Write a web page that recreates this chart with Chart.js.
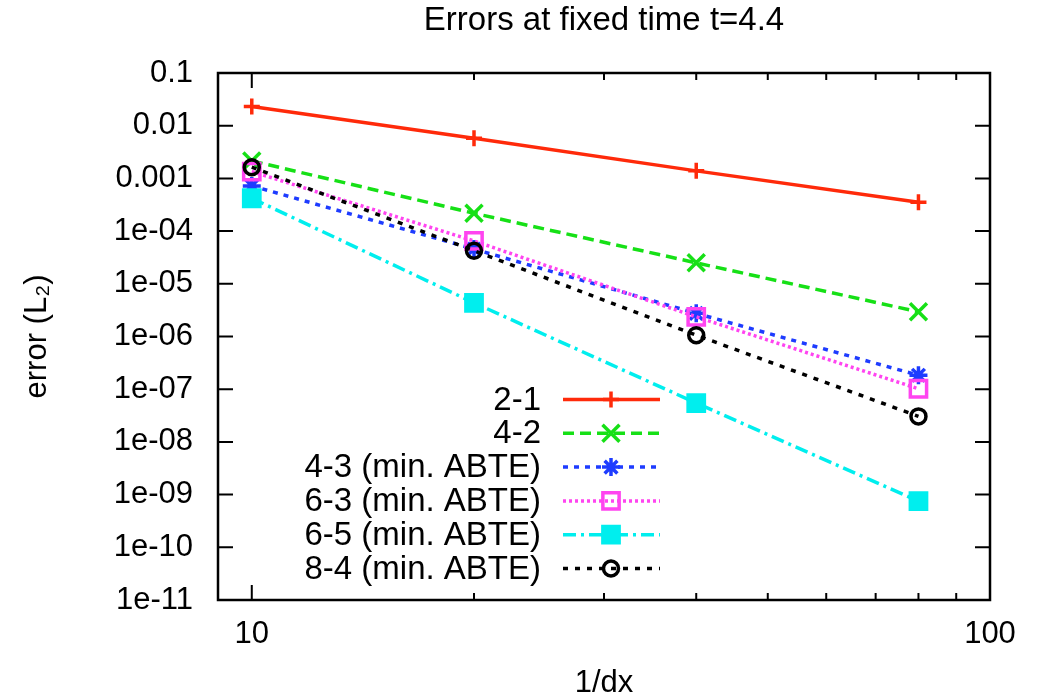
<!DOCTYPE html>
<html>
<head>
<meta charset="utf-8">
<script src="https://cdn.jsdelivr.net/npm/chart.js@4.4.1/dist/chart.umd.min.js"></script>
<style>
  html, body { margin: 0; padding: 0; background: #fff; }
</style>
</head>
<body>
<canvas id="errChart" width="1040" height="700"></canvas>
<script>
// grid resolutions (1/dx) and L2 errors
const resolutions = [10, 20, 40, 80];
const err21 = [0.0232, 0.0058, 0.00139, 3.53e-4];
const err42 = [0.00215, 2.18e-4, 2.5e-5, 2.94e-6];
const err43 = [7.2e-4, 4.57e-5, 2.75e-6, 1.84e-7];
const err63 = [1.35e-3, 6.5e-5, 2.36e-6, 1.02e-7];
const err65 = [4.2e-4, 4.35e-6, 5.47e-8, 7.5e-10];
const err84 = [1.63e-3, 4.24e-5, 1.06e-6, 3.05e-8];

const seriesLabels = ['2-1', '4-2', '4-3 (min. ABTE)', '6-3 (min. ABTE)', '6-5 (min. ABTE)', '8-4 (min. ABTE)'];

const xTickValues = [10, 20, 30, 40, 50, 60, 70, 80, 90, 100];
const xTickLabels = ['10', '', '', '', '', '', '', '', '', '100'];
const yTickValues = [0.1, 0.01, 1e-3, 1e-4, 1e-5, 1e-6, 1e-7, 1e-8, 1e-9, 1e-10, 1e-11];
const yTickLabels = ['0.1', '0.01', '0.001', '1e-04', '1e-05', '1e-06', '1e-07', '1e-08', '1e-09', '1e-10', '1e-11'];

const FONT = "'Liberation Sans', Arial, Helvetica, sans-serif";

const toPoints = (vals) => resolutions.map((x, i) => ({ x: x, y: vals[i] }));

const styles = [
  { color: '#ff2a0a', dash: [], point: 'cross', radius: 8, fill: 'transparent' },
  { color: '#16e016', dash: [11, 6], point: 'crossRot', radius: 12, fill: 'transparent' },
  { color: '#1e3cff', dash: [5, 6], point: 'star', radius: 9, fill: 'transparent' },
  { color: '#ff44f0', dash: [3, 3], point: 'rect', radius: 11.5, fill: 'transparent' },
  { color: '#00eeee', dash: [13, 5, 3, 5], point: 'rect', radius: 11.5, fill: '#00eeee' },
  { color: '#000000', dash: [5, 7], point: 'circle', radius: 7.5, fill: 'transparent' }
];
const allErrors = [err21, err42, err43, err63, err65, err84];

const datasets = allErrors.map((vals, i) => ({
  label: seriesLabels[i],
  data: toPoints(vals),
  borderColor: styles[i].color,
  backgroundColor: styles[i].fill,
  borderWidth: 3.5,
  borderDash: styles[i].dash,
  pointStyle: styles[i].point,
  pointRadius: styles[i].radius,
  pointBorderWidth: 3.5,
  pointBorderColor: styles[i].color,
  pointBackgroundColor: styles[i].fill,
  tension: 0,
  fill: false,
  order: allErrors.length - i
}));

// gnuplot style box with inward ticks on all four sides
const framePlugin = {
  id: 'frame',
  beforeDatasetsDraw(chart) {
    const { ctx, chartArea: a, scales } = chart;
    ctx.save();
    ctx.strokeStyle = '#000';
    ctx.lineWidth = 2;
    ctx.beginPath();
    xTickValues.forEach((v) => {
      const px = scales.x.getPixelForValue(v);
      const len = (v === 10 || v === 100) ? 15 : 7;
      ctx.moveTo(px, a.bottom); ctx.lineTo(px, a.bottom - len);
      ctx.moveTo(px, a.top); ctx.lineTo(px, a.top + len);
    });
    yTickValues.forEach((v) => {
      const py = scales.y.getPixelForValue(v);
      ctx.moveTo(a.left, py); ctx.lineTo(a.left + 15, py);
      ctx.moveTo(a.right, py); ctx.lineTo(a.right - 15, py);
    });
    ctx.stroke();
    ctx.lineWidth = 2.5;
    ctx.strokeRect(a.left, a.top, a.right - a.left, a.bottom - a.top);
    ctx.restore();
  }
};

// key drawn inside the plot: right aligned text, then sample line + marker
const keyPlugin = {
  id: 'key',
  afterDatasetsDraw(chart) {
    const ctx = chart.ctx;
    ctx.save();
    chart.data.datasets.forEach((ds, i) => {
      const y = 399.5 + i * 33.8;
      ctx.font = '33px ' + FONT;
      ctx.fillStyle = '#000';
      ctx.textAlign = 'right';
      ctx.textBaseline = 'middle';
      ctx.fillText(ds.label, 541, y + 1);

      ctx.strokeStyle = ds.borderColor;
      ctx.lineWidth = ds.borderWidth;
      ctx.setLineDash(ds.borderDash);
      ctx.beginPath();
      ctx.moveTo(563, y);
      ctx.lineTo(660, y);
      ctx.stroke();
      ctx.setLineDash([]);

      ctx.lineWidth = ds.pointBorderWidth;
      ctx.fillStyle = ds.pointBackgroundColor;
      Chart.helpers.drawPoint(ctx, {
        pointStyle: ds.pointStyle,
        radius: ds.pointRadius,
        rotation: 0,
        borderWidth: ds.pointBorderWidth
      }, 611, y);
    });
    ctx.restore();
  }
};

new Chart(document.getElementById('errChart'), {
  type: 'line',
  data: { datasets: datasets },
  plugins: [framePlugin, keyPlugin],
  options: {
    responsive: false,
    animation: false,
    layout: { padding: { right: 50 } },
    plugins: {
      legend: { display: false },
      tooltip: { enabled: false },
      title: {
        display: true,
        text: 'Errors at fixed time t=4.4',
        fullSize: false,
        color: '#000',
        font: { family: FONT, size: 33, weight: 'normal', lineHeight: 1.2 },
        padding: { top: 1, bottom: 32.4 }
      }
    },
    scales: {
      x: {
        type: 'logarithmic',
        min: 9,
        max: 100,
        afterBuildTicks: (s) => { s.ticks = xTickValues.map((v) => ({ value: v })); },
        afterFit: (s) => { s.height = 100; },
        grid: { display: false, drawTicks: false },
        border: { display: false },
        ticks: {
          autoSkip: false,
          maxRotation: 0,
          padding: 16,
          color: '#000',
          font: { family: FONT, size: 31 },
          callback: (v, i) => xTickLabels[i]
        },
        title: {
          display: true,
          text: '1/dx',
          color: '#000',
          font: { family: FONT, size: 31, lineHeight: 1 },
          padding: { top: 0, bottom: 1 }
        }
      },
      y: {
        type: 'logarithmic',
        min: 1e-11,
        max: 0.1,
        afterBuildTicks: (s) => { s.ticks = yTickValues.map((v) => ({ value: v })); },
        afterFit: (s) => { s.width = 218; },
        grid: { display: false, drawTicks: false },
        border: { display: false },
        ticks: {
          autoSkip: false,
          padding: 25,
          color: '#000',
          font: { family: FONT, size: 31 },
          callback: (v, i) => yTickLabels[i]
        },
        title: {
          display: true,
          text: 'error (L\u2082)',
          color: '#000',
          font: { family: FONT, size: 31, lineHeight: 1.2 },
          padding: { top: 19, bottom: 0 }
        }
      }
    }
  }
});
</script>
</body>
</html>
